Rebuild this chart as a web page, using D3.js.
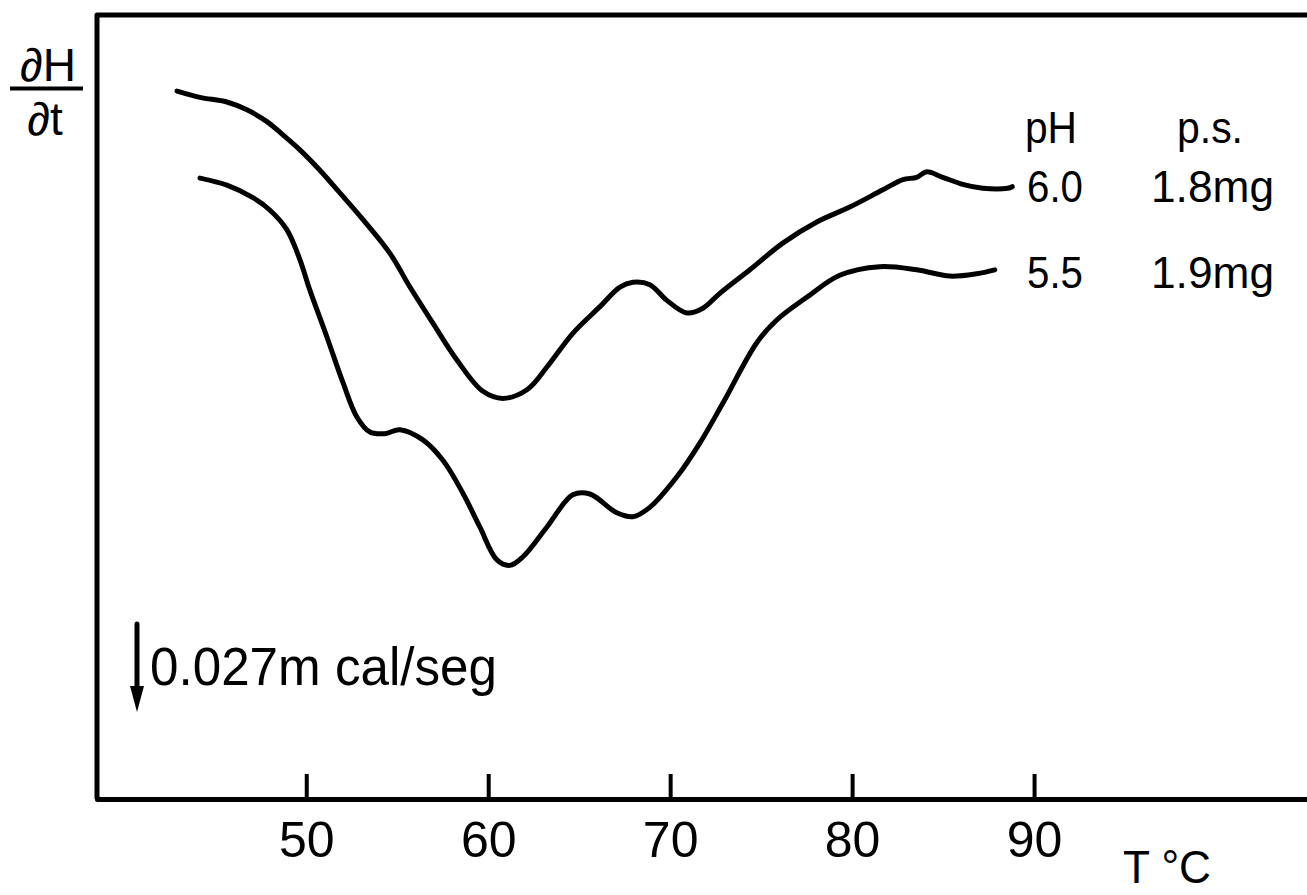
<!DOCTYPE html>
<html>
<head>
<meta charset="utf-8">
<script src="https://cdn.jsdelivr.net/npm/d3@7"></script>
<style>
  body { margin: 0; background: #fff; }
  text { font-family: "Liberation Sans", Arial, sans-serif; fill: #000; }
</style>
</head>
<body>
<script>
// Thermogram data (T in °C, dH/dt in arbitrary units)
const tempTicks = [50, 60, 70, 80, 90];

const tempPH60 = [42.9, 44.16, 45.64, 46.74, 47.84, 48.72, 49.65, 50.75, 51.85, 53.12, 54.6, 55.7, 56.96, 58.28, 59.71, 60.81, 62.13, 63.23, 64.65, 66.14, 67.24, 67.95, 68.88, 69.82, 70.92, 71.8, 72.73, 74.38, 76.19, 78.06, 79.87, 81.69, 82.79, 83.55, 84.1, 84.98, 86.08, 87.18, 88.55, 88.8];
const heatPH60 = [90.3, 89.5, 88.9, 87.9, 86.4, 84.7, 82.8, 80.2, 77.3, 73.9, 69.6, 65.3, 60.7, 56.0, 52.0, 51.1, 52.2, 55.1, 59.4, 62.8, 65.3, 65.9, 65.6, 63.6, 62.0, 62.6, 64.5, 67.5, 70.9, 73.6, 75.5, 77.7, 79.0, 79.3, 80.0, 79.3, 78.4, 77.9, 77.9, 78.1];

const tempPH55 = [44.16, 45.64, 47.07, 48.01, 48.94, 49.65, 50.2, 51.14, 52.02, 52.79, 53.5, 54.32, 55.15, 56.41, 57.51, 58.61, 59.54, 60.48, 61.19, 61.91, 63.23, 64.65, 65.59, 67.07, 67.95, 68.88, 70.37, 71.63, 72.9, 74.76, 75.86, 77.51, 79.32, 81.52, 83.55, 85.37, 86.85, 87.84];
const heatPH55 = [79.2, 78.3, 76.7, 75.1, 72.6, 68.8, 64.9, 58.9, 53.1, 48.7, 46.8, 46.6, 47.1, 45.8, 43.2, 39.0, 34.7, 30.5, 29.8, 30.9, 34.7, 38.8, 38.9, 36.5, 36.0, 37.2, 41.1, 45.4, 50.5, 58.2, 61.1, 64.0, 66.8, 67.9, 67.5, 66.7, 67.0, 67.5];

// legend table: pH and sample weight (p.s.)
const legendHead = ["pH", "p.s."];
const legendPH = ["6.0", "5.5"];
const legendWeight = ["1.8mg", "1.9mg"];

const W = 1307, H = 895;

const svg = d3
  .select("body")
  .append("svg")
  .attr("width", W)
  .attr("height", H);

const x = d3.scaleLinear().domain([38.5, 105]).range([97, 1307]);
const y = d3.scaleLinear().domain([0, 100]).range([799, 15]);

// frame: left and top edges
svg
  .append("path")
  .attr("d", `M${x(38.5)},${y(0)}V${y(100)}H${x(105)}`)
  .attr("fill", "none")
  .attr("stroke", "#000")
  .attr("stroke-width", 5)
  .attr("stroke-linejoin", "round");

// bottom axis with inward ticks
const xAxis = d3
  .axisBottom(x)
  .tickValues(tempTicks)
  .tickSizeInner(-25)
  .tickSizeOuter(0)
  .tickPadding(22);

const gx = svg
  .append("g")
  .attr("transform", `translate(0,${y(0)})`)
  .call(xAxis);

gx.select(".domain").attr("stroke-width", 5).attr("stroke-linecap", "round");
gx.selectAll(".tick line").attr("stroke-width", 4);
gx.selectAll(".tick text")
  .attr("font-size", 50)
  .attr("font-family", "Liberation Sans, Arial, sans-serif")
  .attr("fill", "#000");

// axis titles
svg
  .append("text")
  .attr("x", 1123)
  .attr("y", 883)
  .attr("font-size", 46)
  .attr("textLength", 88)
  .attr("lengthAdjust", "spacingAndGlyphs")
  .text("T °C");

svg.append("text").attr("x", 48).attr("y", 81).attr("font-size", 46).attr("text-anchor", "middle").text("∂H");
svg
  .append("line")
  .attr("x1", 10)
  .attr("x2", 83)
  .attr("y1", 88.5)
  .attr("y2", 88.5)
  .attr("stroke", "#000")
  .attr("stroke-width", 4);
svg.append("text").attr("x", 45).attr("y", 135).attr("font-size", 46).attr("text-anchor", "middle").text("∂t");

// curves
const line = d3
  .line()
  .x(d => x(d[0]))
  .y(d => y(d[1]))
  .curve(d3.curveCatmullRom.alpha(0.5));

const series = [
  d3.zip(tempPH60, heatPH60),
  d3.zip(tempPH55, heatPH55)
];

svg
  .selectAll("path.curve")
  .data(series)
  .join("path")
  .attr("class", "curve")
  .attr("d", line)
  .attr("fill", "none")
  .attr("stroke", "#000")
  .attr("stroke-width", 5)
  .attr("stroke-linecap", "round")
  .attr("stroke-linejoin", "round");

// legend table
const legendRowsY = [143, 202, 288];
svg.append("text").attr("x", 1025).attr("y", legendRowsY[0]).attr("font-size", 44).attr("textLength", 52).attr("lengthAdjust", "spacingAndGlyphs").text(legendHead[0]);
svg.append("text").attr("x", 1177).attr("y", legendRowsY[0]).attr("font-size", 44).attr("textLength", 66).attr("lengthAdjust", "spacingAndGlyphs").text(legendHead[1]);

legendPH.forEach((v, i) => {
  svg
    .append("text")
    .attr("x", 1027)
    .attr("y", legendRowsY[i + 1])
    .attr("font-size", 44)
    .attr("textLength", 56)
    .attr("lengthAdjust", "spacingAndGlyphs")
    .text(v);
  svg
    .append("text")
    .attr("x", 1151)
    .attr("y", legendRowsY[i + 1])
    .attr("font-size", 44)
    .attr("textLength", 123)
    .attr("lengthAdjust", "spacingAndGlyphs")
    .text(legendWeight[i]);
});

// scale bar for the heat flow
svg
  .append("line")
  .attr("x1", 137)
  .attr("x2", 137)
  .attr("y1", 624)
  .attr("y2", 690)
  .attr("stroke", "#000")
  .attr("stroke-width", 5)
  .attr("stroke-linecap", "round");
svg
  .append("path")
  .attr("d", "M130,686L144,686L137,712Z")
  .attr("fill", "#000");
svg
  .append("text")
  .attr("x", 150)
  .attr("y", 685)
  .attr("font-size", 54)
  .attr("textLength", 347)
  .attr("lengthAdjust", "spacingAndGlyphs")
  .text("0.027m cal/seg");
</script>
</body>
</html>
